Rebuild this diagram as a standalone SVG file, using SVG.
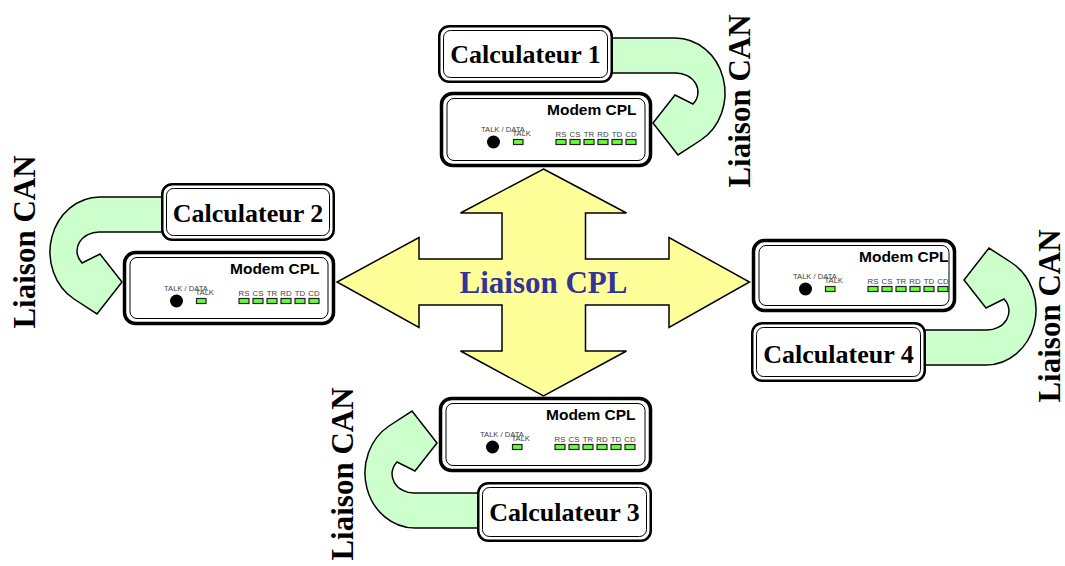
<svg xmlns="http://www.w3.org/2000/svg" xmlns:xlink="http://www.w3.org/1999/xlink" width="1065" height="566" viewBox="0 0 1065 566">
<style>
.outer{fill:#fff;stroke:#000;stroke-width:3.5}
.inner{fill:none;stroke:#000;stroke-width:1}
.couter{fill:#fff;stroke:#000;stroke-width:2.5}
.cinner{fill:none;stroke:#000;stroke-width:1}
.calc{font-family:"Liberation Serif","Times New Roman",serif;font-weight:bold;font-size:26px;fill:#000;text-anchor:middle}
.can{font-family:"Liberation Serif","Times New Roman",serif;font-weight:bold;font-size:31px;fill:#000;text-anchor:middle}
.cpl{font-family:"Liberation Serif","Times New Roman",serif;font-weight:bold;font-size:31px;fill:#333399;text-anchor:middle}
.mtitle{font-family:"Liberation Sans",Arial,sans-serif;font-weight:bold;font-size:15.5px;fill:#000}
.small{font-family:"Liberation Sans",Arial,sans-serif;font-size:7.6px;fill:#404040}
.lbl{font-family:"Liberation Sans",Arial,sans-serif;font-size:7.8px;fill:#404040;text-anchor:middle}
.led{fill:#66ff33;stroke:#222;stroke-width:1.2}
.green{fill:#ccffcc;stroke:#000;stroke-width:1.5;stroke-linejoin:miter}
.cross{fill:#ffff99;stroke:#000;stroke-width:1.5}
</style>
<defs>
<path id="uturn" d="M -50,-85 L 22,-85 A 50,55 0 0 1 48,17 L 25,32 L 0,0 L 22,-28 L 40,-19 A 22,19 0 0 0 22,-50 L -50,-50 Z"/>
<g id="panel">
<text class="mtitle" x="107" y="23">Modem CPL</text>
<text class="small" x="41" y="40">TALK / DATA</text>
<text class="small" x="72.5" y="44">TALK</text>
<circle cx="53.5" cy="50" r="6.5" fill="#000"/>
<rect class="led" x="73.5" y="47.5" width="9.5" height="5"/>
<text class="lbl" x="121" y="45">RS</text>
<text class="lbl" x="135" y="45">CS</text>
<text class="lbl" x="149" y="45">TR</text>
<text class="lbl" x="163" y="45">RD</text>
<text class="lbl" x="177" y="45">TD</text>
<text class="lbl" x="191" y="45">CD</text>
<rect class="led" x="116" y="47.5" width="10" height="5"/>
<rect class="led" x="130" y="47.5" width="10" height="5"/>
<rect class="led" x="144" y="47.5" width="10" height="5"/>
<rect class="led" x="158" y="47.5" width="10" height="5"/>
<rect class="led" x="172" y="47.5" width="10" height="5"/>
<rect class="led" x="186" y="47.5" width="10" height="5"/>
</g>
</defs>
<g id="connectors">
<g id="cpl-link">
<polygon class="cross" points="543.5,169 626.5,213 585.5,213 585.5,259 669,259 669,237.5 749.5,282 669,327.5 669,305 585.5,305 585.5,351 626.5,351 543.5,396 460.5,351 502,351 502,305 419,305 419,327.5 337,282 419,237.5 419,259 502,259 502,213 460.5,213"/>
<text class="cpl" x="543.5" y="293">Liaison CPL</text>
</g>
<g id="can1">
<use xlink:href="#uturn" href="#uturn" class="green" transform="translate(653,123)"/>
<text class="can" transform="translate(750,101) rotate(-90)">Liaison CAN</text>
</g>
<g id="can2">
<use xlink:href="#uturn" href="#uturn" class="green" transform="translate(122,282) scale(-1,1)"/>
<text class="can" transform="translate(35,242) rotate(-90)">Liaison CAN</text>
</g>
<g id="can3">
<use xlink:href="#uturn" href="#uturn" class="green" transform="translate(437,443) scale(-1,-1)"/>
<text class="can" transform="translate(353,474) rotate(-90)">Liaison CAN</text>
</g>
<g id="can4">
<use xlink:href="#uturn" href="#uturn" class="green" transform="translate(964,280) scale(1,-1)"/>
<text class="can" transform="translate(1060,316) rotate(-90)">Liaison CAN</text>
</g>
</g>
<g id="calc1">
<rect class="couter" x="439.25" y="26.25" width="172.5" height="55.5" rx="10"/>
<rect class="cinner" x="443.5" y="30.5" width="164" height="47" rx="7"/>
<text class="calc" x="525.5" y="63">Calculateur 1</text>
</g>
<g id="calc2">
<rect class="couter" x="162.25" y="184.25" width="171.5" height="55.5" rx="10"/>
<rect class="cinner" x="166.5" y="188.5" width="163" height="47" rx="7"/>
<text class="calc" x="248" y="222">Calculateur 2</text>
</g>
<g id="calc3">
<rect class="couter" x="478.25" y="483.25" width="172.5" height="57.5" rx="10"/>
<rect class="cinner" x="482.5" y="487.5" width="164" height="49" rx="7"/>
<text class="calc" x="564.5" y="521">Calculateur 3</text>
</g>
<g id="calc4">
<rect class="couter" x="752.25" y="323.25" width="172.5" height="57.5" rx="10"/>
<rect class="cinner" x="756.5" y="327.5" width="164" height="49" rx="7"/>
<text class="calc" x="838.5" y="363">Calculateur 4</text>
</g>
<g id="modem1">
<rect class="outer" x="441.5" y="93.5" width="209" height="72" rx="11"/>
<rect class="inner" x="447" y="98.5" width="198" height="62" rx="7"/>
<use xlink:href="#panel" href="#panel" transform="translate(440,92)"/>
</g>
<g id="modem2">
<rect class="outer" x="124.5" y="252.5" width="209" height="71" rx="11"/>
<rect class="inner" x="130" y="257.5" width="198" height="61" rx="7"/>
<use xlink:href="#panel" href="#panel" transform="translate(123,251)"/>
</g>
<g id="modem3">
<rect class="outer" x="440.5" y="398.5" width="210" height="72" rx="11"/>
<rect class="inner" x="446" y="403.5" width="199" height="62" rx="7"/>
<use xlink:href="#panel" href="#panel" transform="translate(439,397)"/>
</g>
<g id="modem4">
<rect class="outer" x="753.5" y="240.5" width="201" height="70" rx="11"/>
<rect class="inner" x="759" y="245.5" width="190" height="60" rx="7"/>
<use xlink:href="#panel" href="#panel" transform="translate(752,239)"/>
</g>
</svg>
